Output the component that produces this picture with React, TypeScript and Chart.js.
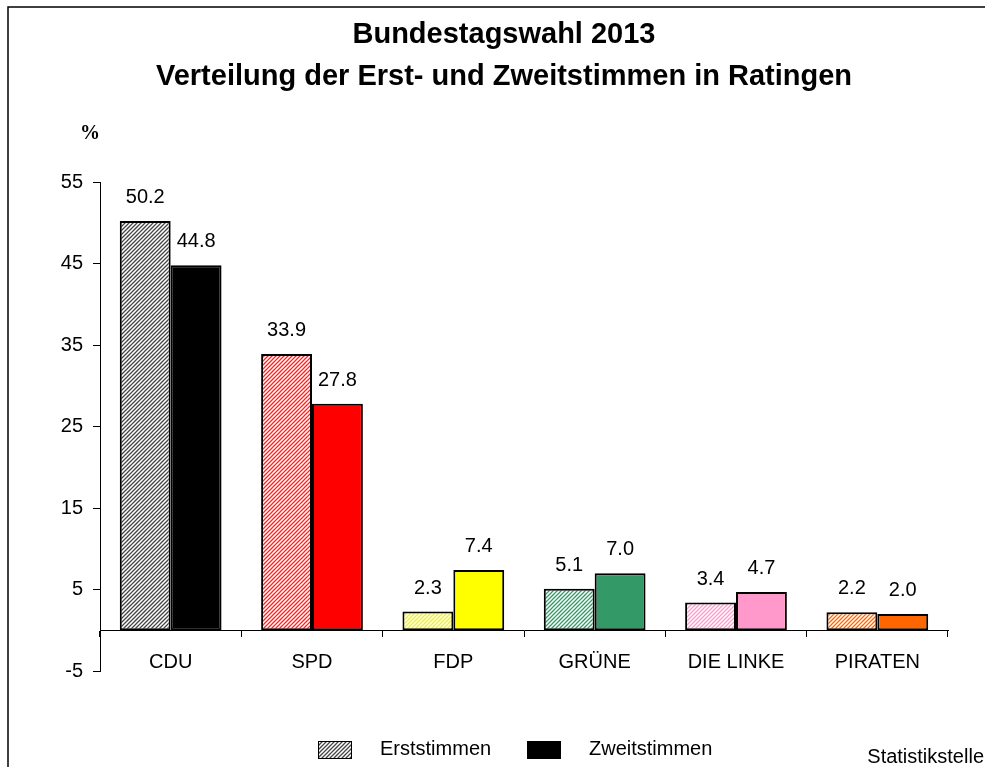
import React, { useEffect, useRef } from "react";
import { Chart, registerables } from "chart.js";

Chart.register(...registerables);

const TITLE_LINES = ["Bundestagswahl 2013", "Verteilung der Erst- und Zweitstimmen in Ratingen"];
const CATEGORIES = ["CDU", "SPD", "FDP", "GRÜNE", "DIE LINKE", "PIRATEN"];
const SERIES_LABELS = ["Erststimmen", "Zweitstimmen"];
const ERSTSTIMMEN = [50.2, 33.9, 2.3, 5.1, 3.4, 2.2];
const ZWEITSTIMMEN = [44.8, 27.8, 7.4, 7.0, 4.7, 2.0];
const Y_TICKS = [-5, 5, 15, 25, 35, 45, 55];
const PARTY_COLORS = ["#000000", "#FF0000", "#FFFF00", "#339966", "#FF99CC", "#FF6600"];
const HATCH_COLORS = ["#444444", "#FF2020", "#F0F020", "#339966", "#FF99CC", "#FF6600"];
const Y_UNIT = "%";
const SOURCE = "Statistikstelle";

const FONT = '"Liberation Sans", Arial, sans-serif';

function makeHatch(color: string): CanvasPattern {
  const c = document.createElement("canvas");
  c.width = 8;
  c.height = 8;
  const g = c.getContext("2d")!;
  g.fillStyle = "#ffffff";
  g.fillRect(0, 0, 8, 8);
  g.strokeStyle = color;
  g.lineWidth = 1.25;
  for (let k = -2; k <= 2; k++) {
    const a = k * 4;
    g.beginPath();
    g.moveTo(a - 1, 9);
    g.lineTo(a + 9, -1);
    g.stroke();
  }
  return g.createPattern(c, "repeat")!;
}

export default function App() {
  const ref = useRef<HTMLCanvasElement | null>(null);

  useEffect(() => {
    const canvas = ref.current;
    if (!canvas) return;
    const hatches = HATCH_COLORS.map((c) => makeHatch(c));
    const legendHatch = makeHatch("#444444");

    const decorations = {
      id: "decorations",
      afterDatasetsDraw(chart: any) {
        const ctx = chart.ctx as CanvasRenderingContext2D;
        ctx.save();
        ctx.font = `20px ${FONT}`;
        ctx.fillStyle = "#000";
        ctx.textAlign = "center";
        ctx.textBaseline = "alphabetic";
        chart.data.datasets.forEach((ds: any, di: number) => {
          const meta = chart.getDatasetMeta(di);
          meta.data.forEach((el: any, i: number) => {
            const v = ds.data[i] as number;
            ctx.fillText(v.toFixed(1), el.x, el.y - 18);
          });
        });
        ctx.restore();
      },
      afterDraw(chart: any) {
        const ctx = chart.ctx as CanvasRenderingContext2D;
        ctx.save();
        // outer frame
        ctx.strokeStyle = "#000";
        ctx.lineWidth = 1.5;
        ctx.strokeRect(8, 7, 1100, 900);
        // titles
        ctx.fillStyle = "#000";
        ctx.textAlign = "center";
        ctx.textBaseline = "alphabetic";
        ctx.font = `bold 29px ${FONT}`;
        ctx.fillText(TITLE_LINES[0], 504, 43);
        ctx.fillText(TITLE_LINES[1], 504, 85);
        // unit
        ctx.textAlign = "left";
        ctx.font = 'bold 20px "Liberation Serif", "Times New Roman", serif';
        ctx.fillText(Y_UNIT, 80, 139);
        // legend
        const boxY = 741;
        const boxW = 34;
        const boxH = 18;
        const items = [
          { x: 318, fill: legendHatch as any, label: chart.data.datasets[0].label },
          { x: 527, fill: "#000000", label: chart.data.datasets[1].label },
        ];
        ctx.font = `20px ${FONT}`;
        items.forEach((it) => {
          ctx.fillStyle = it.fill;
          ctx.fillRect(it.x, boxY, boxW, boxH);
          ctx.strokeStyle = "#000";
          ctx.lineWidth = 1;
          ctx.strokeRect(it.x + 0.5, boxY + 0.5, boxW - 1, boxH - 1);
          ctx.fillStyle = "#000";
          ctx.fillText(it.label, it.x + boxW + 28, 755);
        });
        // source
        ctx.textAlign = "right";
        ctx.font = `20px ${FONT}`;
        ctx.fillText(SOURCE, 984, 763);
        ctx.restore();
      },
    };

    const chart = new Chart(canvas, {
      type: "bar",
      data: {
        labels: CATEGORIES,
        datasets: [
          {
            label: SERIES_LABELS[0],
            data: ERSTSTIMMEN,
            backgroundColor: hatches as any,
            borderColor: "#000",
            borderWidth: 2,
            borderSkipped: false,
          },
          {
            label: SERIES_LABELS[1],
            data: ZWEITSTIMMEN,
            backgroundColor: PARTY_COLORS,
            borderColor: "#000",
            borderWidth: 2,
            borderSkipped: false,
          },
        ],
      },
      options: {
        animation: false,
        responsive: false,
        maintainAspectRatio: false,
        devicePixelRatio: 1,
        layout: { padding: { left: 0, right: 37, top: 182, bottom: 96 } },
        datasets: {
          bar: { categoryPercentage: 0.72, barPercentage: 1.0 },
        },
        plugins: {
          legend: { display: false },
          title: { display: false },
          tooltip: { enabled: false },
        },
        scales: {
          x: {
            position: { y: 0 } as any,
            offset: true,
            grid: {
              display: true,
              offset: true,
              drawOnChartArea: false,
              drawTicks: true,
              tickLength: 6,
              color: "#000",
              lineWidth: 1,
            },
            border: { display: true, color: "#000", width: 1 },
            ticks: {
              color: "#000",
              font: { family: FONT, size: 20 },
              padding: 14,
              maxRotation: 0,
              autoSkip: false,
            },
          },
          y: {
            min: Y_TICKS[0],
            max: Y_TICKS[Y_TICKS.length - 1],
            afterBuildTicks: (scale: any) => {
              scale.ticks = Y_TICKS.map((v) => ({ value: v }));
            },
            afterFit: (scale: any) => {
              scale.width = 100;
            },
            grid: {
              display: true,
              drawOnChartArea: false,
              drawTicks: true,
              tickLength: 7,
              color: "#000",
              lineWidth: 1,
            },
            border: { display: true, color: "#000", width: 1 },
            ticks: {
              color: "#000",
              font: { family: FONT, size: 20 },
              padding: 10,
              callback: (v: any) => String(v),
            },
          },
        },
      },
      plugins: [decorations],
    });

    return () => chart.destroy();
  }, []);

  return (
    <div style={{ position: "absolute", left: 0, top: 0, width: 985, height: 767, background: "#fff" }}>
      <canvas ref={ref} width={985} height={767} style={{ display: "block", width: 985, height: 767 }} />
    </div>
  );
}
